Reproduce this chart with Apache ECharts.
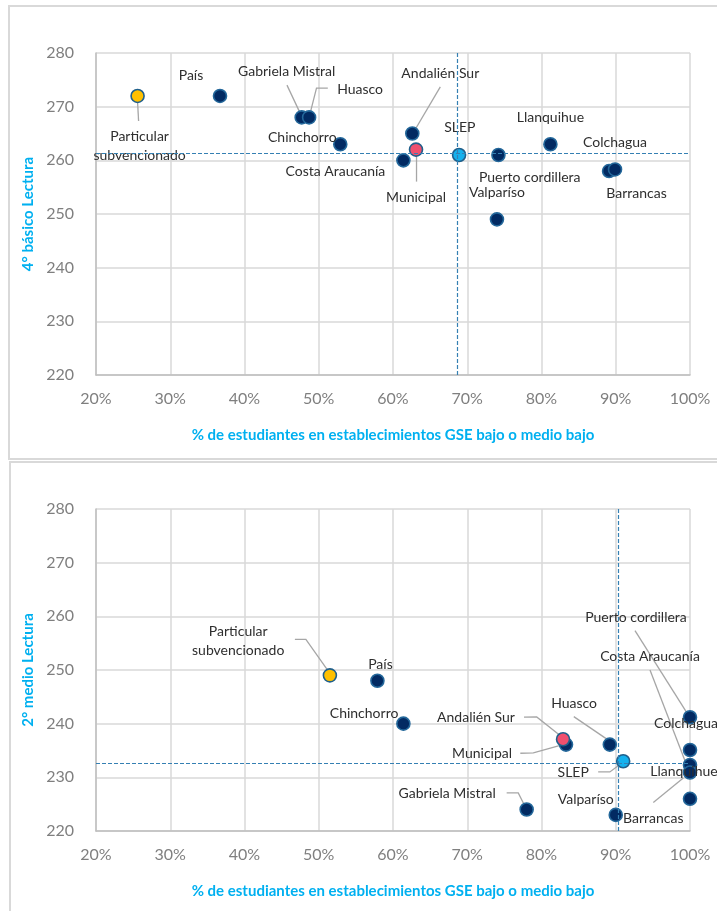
<!DOCTYPE html>
<html>
<head>
<meta charset="utf-8">
<script src="https://cdn.jsdelivr.net/npm/echarts@6/dist/echarts.min.js"></script>
<style>
  html, body { margin: 0; padding: 0; background: #ffffff; }
  #chart { width: 717px; height: 911px; }
</style>
</head>
<body>
<div id="chart"></div>
<script>
// ---- 4° básico Lectura ----
const names4 = ['País', 'Gabriela Mistral', 'Huasco', 'Chinchorro', 'Costa Araucanía', 'Andalién Sur',
  'Puerto cordillera', 'Llanquihue', 'Barrancas', 'Colchagua', 'Valparíso',
  'Particular subvencionado', 'Municipal', 'SLEP'];
const gse4 = [36.7, 47.7, 48.7, 52.9, 61.4, 62.6, 74.2, 81.2, 89.1, 89.9, 74.0, 25.6, 63.1, 68.9];
const lectura4 = [272, 268, 268, 263, 260, 265, 261, 263, 258, 258.3, 249, 272, 262, 261];
const ref4 = [68.7, 261.3];   // promedio SLEP: % GSE, puntaje

// ---- 2° medio Lectura ----
const names2 = ['País', 'Chinchorro', 'Andalién Sur', 'Huasco', 'Gabriela Mistral', 'Valparíso',
  'Puerto cordillera', 'Colchagua', 'Costa Araucanía', 'Barrancas', 'Llanquihue',
  'Particular subvencionado', 'Municipal', 'SLEP'];
const gse2 = [57.9, 61.4, 83.3, 89.2, 78.0, 90.0, 100, 100, 100, 100, 100, 51.5, 82.9, 91.0];
const lectura2 = [248, 240, 236.1, 236.1, 224, 223, 241.2, 235.1, 232.3, 230.9, 226, 249, 237.1, 233];
const ref2 = [90.35, 232.7];

// axis ranges
const xRange = { min: 20, max: 100, step: 10 };
const yRange = { min: 220, max: 280, step: 10 };

const xTitle = '% de estudiantes en establecimientos GSE bajo o medio bajo';
const yTitles = ['4° básico Lectura', '2° medio Lectura'];

// ---- styling ----
const FONT = 'Lato, "Open Sans", sans-serif';
const navy = { color: '#022A62', borderColor: '#23679A' };
const markerStyles = {
  'Particular subvencionado': { color: '#FFC000', borderColor: '#1F5F8B' },
  'Municipal': { color: '#EF4F6E', borderColor: '#1F5F8B' },
  'SLEP': { color: '#14B1EE', borderColor: '#1F5F8B' }
};

// label placement (pixel offset of label centre from the marker) and leader lines
const layout4 = {
  'Particular subvencionado': { off: [2, 50], lead: [[0, 6], [1, 25]] },
  'País': { off: [-29, -20] },
  'Gabriela Mistral': { off: [-15, -46], lead: [[-14.7, -32.3], [0, -1]] },
  'Huasco': { off: [51, -28], lead: [[18.7, -29.3], [7.4, -29.3], [0, 0]] },
  'Chinchorro': { off: [-38, -7] },
  'Costa Araucanía': { off: [-68, 11] },
  'Andalién Sur': { off: [28, -60], lead: [[28, -46.6], [0.5, 0]] },
  'Municipal': { off: [0, 47.7], lead: [[0.5, 0], [0.5, 32]] },
  'SLEP': { off: [0.7, -27] },
  'Puerto cordillera': { off: [31.3, 22.4] },
  'Llanquihue': { off: [0, -26.7] },
  'Colchagua': { off: [0, -26.6] },
  'Barrancas': { off: [27.4, 22] },
  'Valparíso': { off: [0, -27] }
};
const layout2 = {
  'Particular subvencionado': { off: [-91.7, -34.7], lead: [[-35, -36], [-24, -36], [0, -2]] },
  'País': { off: [3, -16.7] },
  'Chinchorro': { off: [-39.3, -10] },
  'Andalién Sur': { off: [-90, -27.4], lead: [[-42, -27.4], [-29.3, -27.7], [-4, -7.7]] },
  'Municipal': { off: [-81, 14.7], lead: [[-42.7, 14], [-29.7, 13.7], [-1, 5.7]] },
  'Huasco': { off: [-35.7, -41.4], lead: [[-36, -28], [-3.3, -5.7]] },
  'SLEP': { off: [-50, 11.3], lead: [[-25, 10.7], [-13.3, 10.7], [0, 0.7]] },
  'Gabriela Mistral': { off: [-79.4, -16], lead: [[-20, -16.6], [-8.4, -16.6], [-0.7, -1.3]] },
  'Valparíso': { off: [-30, -15.4] },
  'Puerto cordillera': { off: [-54, -99.6], lead: [[-55, -86.6], [-0.7, -0.6]] },
  'Costa Araucanía': { off: [-40, -108.3], lead: [[-40, -95], [-2.7, 1.7]] },
  'Colchagua': { off: [-4, -26.7] },
  'Llanquihue': { off: [-6, -27.3] },
  'Barrancas': { off: [-36.7, 45.6], lead: [[-36.7, 30], [-6.7, 5.6]] }
};

const grids = [
  { left: 96, top: 53, width: 594, height: 322 },
  { left: 96, top: 509, width: 594, height: 322 }
];

function buildData(names, xs, ys, layout) {
  return names.map((n, i) => {
    const st = markerStyles[n] || navy;
    const l = layout[n] || { off: [0, -27] };
    return {
      name: n,
      value: [xs[i], ys[i]],
      itemStyle: { color: st.color, borderColor: st.borderColor },
      label: { offset: l.off }
    };
  });
}

function xAxisCfg(idx) {
  return {
    gridIndex: idx, type: 'value', min: xRange.min, max: xRange.max, interval: xRange.step,
    name: xTitle, nameLocation: 'middle', nameGap: 53,
    nameTextStyle: { color: '#00B0F0', fontWeight: 'bold', fontSize: 15, fontFamily: FONT },
    axisLine: { show: true, lineStyle: { color: '#BFBFBF', width: 1.5 } },
    axisTick: { show: false },
    axisLabel: { formatter: '{value}%', color: '#7F7F7F', fontSize: 16, fontFamily: FONT, margin: 16 },
    splitLine: { show: true, lineStyle: { color: '#D9D9D9', width: 1.5 } }
  };
}
function yAxisCfg(idx) {
  return {
    gridIndex: idx, type: 'value', min: yRange.min, max: yRange.max, interval: yRange.step,
    name: yTitles[idx], nameLocation: 'middle', nameGap: 57,
    nameTextStyle: { color: '#00B0F0', fontWeight: 'bold', fontSize: 15, fontFamily: FONT },
    axisLine: { show: true, lineStyle: { color: '#BFBFBF', width: 1.5 } },
    axisTick: { show: false },
    axisLabel: { color: '#7F7F7F', fontSize: 16, fontFamily: FONT, margin: 22 },
    splitLine: { show: true, lineStyle: { color: '#D9D9D9', width: 1.5 } }
  };
}

function seriesCfg(idx, data, ref) {
  return {
    type: 'scatter', xAxisIndex: idx, yAxisIndex: idx,
    symbol: 'circle', symbolSize: 13,
    itemStyle: { borderWidth: 1.6, opacity: 1 },
    label: {
      show: true, position: 'inside',
      formatter: p => p.name === 'Particular subvencionado' ? 'Particular\nsubvencionado' : p.name,
      color: '#2E2E2E', fontSize: 14, fontFamily: FONT, lineHeight: 19
    },
    emphasis: { disabled: true },
    data: data,
    markLine: {
      silent: true, symbol: 'none', animation: false,
      label: { show: false },
      lineStyle: { color: '#3580B3', width: 1.2, type: [4, 2] },
      data: [{ xAxis: ref[0] }, { yAxis: ref[1] }]
    }
  };
}

const chart = echarts.init(document.getElementById('chart'), null, { renderer: 'canvas' });

const panelFrames = [
  { type: 'rect', shape: { x: 9, y: 6, width: 740, height: 453 }, style: { fill: null, stroke: '#D9D9D9', lineWidth: 2 }, z: -1 },
  { type: 'rect', shape: { x: 10, y: 462, width: 740, height: 480 }, style: { fill: null, stroke: '#D9D9D9', lineWidth: 2 }, z: -1 }
];

chart.setOption({
  animation: false,
  backgroundColor: '#ffffff',
  grid: grids,
  xAxis: [xAxisCfg(0), xAxisCfg(1)],
  yAxis: [yAxisCfg(0), yAxisCfg(1)],
  series: [
    seriesCfg(0, buildData(names4, gse4, lectura4, layout4), ref4),
    seriesCfg(1, buildData(names2, gse2, lectura2, layout2), ref2)
  ],
  graphic: panelFrames
});

// leader lines from the labels to their markers, positioned through the axes' scales
const leaders = [];
[[names4, gse4, lectura4, layout4, 0], [names2, gse2, lectura2, layout2, 1]].forEach(([names, xs, ys, layout, g]) => {
  names.forEach((n, i) => {
    const l = layout[n];
    if (!l || !l.lead) return;
    const p = chart.convertToPixel({ xAxisIndex: g, yAxisIndex: g }, [xs[i], ys[i]]);
    leaders.push({
      type: 'polyline', z: 1,
      shape: { points: l.lead.map(d => [p[0] + d[0], p[1] + d[1]]) },
      style: { stroke: '#A6A6A6', lineWidth: 1.3, fill: null }
    });
  });
});
chart.setOption({ graphic: panelFrames.concat(leaders) });
</script>
</body>
</html>
